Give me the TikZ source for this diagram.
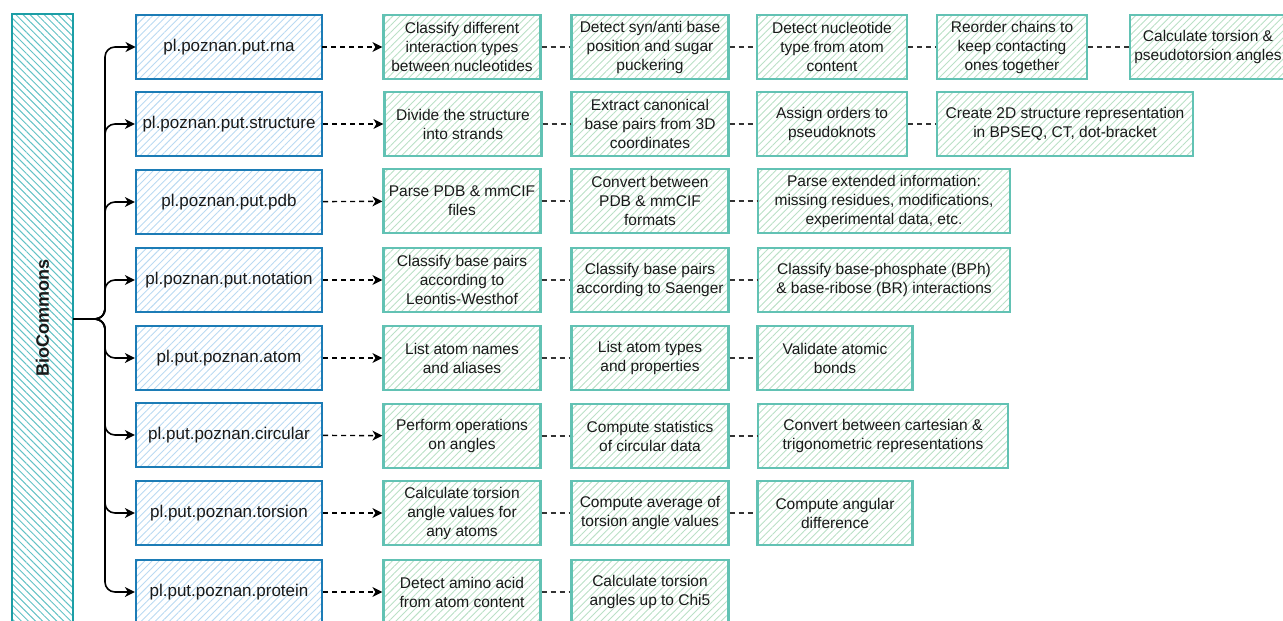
\documentclass[tikz,border=0pt]{standalone}
\usepackage{fontspec}
\setmainfont{Liberation Sans}
\usetikzlibrary{arrows.meta,patterns.meta}
\definecolor{bborder}{RGB}{28,124,182}
\definecolor{bhatch}{RGB}{186,218,242}
\definecolor{gborder}{RGB}{98,194,180}
\definecolor{ghatch}{RGB}{186,224,198}
\definecolor{bioborder}{RGB}{28,158,166}
\definecolor{biohatch}{RGB}{100,194,198}
\definecolor{txt}{RGB}{25,25,25}
\begin{document}
\begin{tikzpicture}[x=1pt,y=-1pt,
  bbox/.style={draw=bborder, line width=2.2pt,
    pattern={Lines[angle=45,distance=5pt,line width=0.9pt]}, pattern color=bhatch,
    minimum width=186, minimum height=64, inner sep=2pt, align=center,
    font=\fontsize{17}{20}\selectfont, text=txt},
  gbox/.style={draw=gborder, line width=2.2pt,
    pattern={Lines[angle=45,distance=5pt,line width=0.9pt]}, pattern color=ghatch,
    minimum width=157, minimum height=64, inner sep=2pt, align=center,
    font=\fontsize{15.5}{19}\selectfont, text=txt},
  biobox/.style={draw=bioborder, line width=2.2pt,
    pattern={Lines[angle=-45,distance=5pt,line width=1pt]}, pattern color=biohatch,
    minimum width=61, minimum height=660},
  bus/.style={draw=black, line width=1.6pt, rounded corners=10pt,
    -{Stealth[length=10pt,width=10pt,inset=3pt]}},
  darrow/.style={draw=black, line width=1.4pt, dash pattern=on 5pt off 4pt,
    -{Stealth[length=10pt,width=10pt,inset=3pt]}},
  dline/.style={draw=black!80, line width=1.2pt, dash pattern=on 5pt off 4pt}
]
\useasboundingbox (0,0) rectangle (1283,621);
\clip (0,0) rectangle (1283,621);

% BioCommons bar
\node[biobox] (bio) at (42.5,344) {};
\node[rotate=90, font=\bfseries\fontsize{18}{20}\selectfont, text=txt] (biotext) at (42.5,318) {BioCommons};
\coordinate (hub) at (105,319);

% blue package boxes
\node[bbox] (r1) at (229,47) {pl.poznan.put.rna};
\node[bbox] (r2) at (229,124) {pl.poznan.put.structure};
\node[bbox] (r3) at (229,202) {pl.poznan.put.pdb};
\node[bbox] (r4) at (229,280) {pl.poznan.put.notation};
\node[bbox] (r5) at (229,358) {pl.put.poznan.atom};
\node[bbox] (r6) at (229,435) {pl.put.poznan.circular};
\node[bbox] (r7) at (229,513) {pl.put.poznan.torsion};
\node[bbox] (r8) at (229,592) {pl.put.poznan.protein};

% row 1
\node[gbox] (g11) at (462,47) {Classify different\\interaction types\\between nucleotides};
\node[gbox] (g12) at (650,47) {Detect syn/anti base\\position and sugar\\puckering};
\node[gbox, minimum width=150] (g13) at (832,47) {Detect nucleotide\\type from atom\\content};
\node[gbox, minimum width=150] (g14) at (1012,47) {Reorder chains to\\keep contacting\\ones together};
\node[gbox, minimum width=156] (g15) at (1208,47) {Calculate torsion \&\\pseudotorsion angles};
% row 2
\node[gbox] (g21) at (463,124) {Divide the structure\\into strands};
\node[gbox] (g22) at (650,124) {Extract canonical\\base pairs from 3D\\coordinates};
\node[gbox, minimum width=150] (g23) at (832,124) {Assign orders to\\pseudoknots};
\node[gbox, minimum width=256] (g24) at (1065,124) {Create 2D structure representation\\in BPSEQ, CT, dot-bracket};
% row 3
\node[gbox] (g31) at (462,201) {Parse PDB \& mmCIF\\files};
\node[gbox] (g32) at (650,201) {Convert between\\PDB \& mmCIF\\formats};
\node[gbox, minimum width=252] (g33) at (884,201) {Parse extended information:\\missing residues, modifications,\\experimental data, etc.};
% row 4
\node[gbox] (g41) at (462,280) {Classify base pairs\\according to\\Leontis-Westhof};
\node[gbox] (g42) at (650,280) {Classify base pairs\\according to Saenger};
\node[gbox, minimum width=252] (g43) at (884,280) {Classify base-phosphate (BPh)\\\& base-ribose (BR) interactions};
% row 5
\node[gbox] (g51) at (462,358) {List atom names\\and aliases};
\node[gbox] (g52) at (650,358) {List atom types\\and properties};
\node[gbox, minimum width=155] (g53) at (835,358) {Validate atomic\\bonds};
% row 6
\node[gbox] (g61) at (462,436) {Perform operations\\on angles};
\node[gbox] (g62) at (650,436) {Compute statistics\\of circular data};
\node[gbox, minimum width=250] (g63) at (883,436) {Convert between cartesian \&\\trigonometric representations};
% row 7
\node[gbox] (g71) at (462,513) {Calculate torsion\\angle values for\\any atoms};
\node[gbox] (g72) at (650,513) {Compute average of\\torsion angle values};
\node[gbox, minimum width=155] (g73) at (835,513) {Compute angular\\difference};
% row 8
\node[gbox] (g81) at (462,592) {Detect amino acid\\from atom content};
\node[gbox] (g82) at (650,592) {Calculate torsion\\angles up to Chi5};

% bus connectors
\foreach \r in {r1,r2,r3,r4,r5,r6,r7,r8}
  \draw[bus] (bio.east |- hub) -- (hub) |- (\r.west);

% dashed arrows to first step
\draw[darrow] (r1) -- (g11);
\draw[darrow] (r2) -- (g21);
\draw[darrow] (r3) -- (g31);
\draw[darrow] (r4) -- (g41);
\draw[darrow] (r5) -- (g51);
\draw[darrow] (r6) -- (g61);
\draw[darrow] (r7) -- (g71);
\draw[darrow] (r8) -- (g81);

% dashed lines between steps
\draw[dline] (g11) -- (g12);
\draw[dline] (g12) -- (g13);
\draw[dline] (g13) -- (g14);
\draw[dline] (g14) -- (g15);
\draw[dline] (g21) -- (g22);
\draw[dline] (g22) -- (g23);
\draw[dline] (g23) -- (g24);
\draw[dline] (g31) -- (g32);
\draw[dline] (g32) -- (g33);
\draw[dline] (g41) -- (g42);
\draw[dline] (g42) -- (g43);
\draw[dline] (g51) -- (g52);
\draw[dline] (g52) -- (g53);
\draw[dline] (g61) -- (g62);
\draw[dline] (g62) -- (g63);
\draw[dline] (g71) -- (g72);
\draw[dline] (g72) -- (g73);
\draw[dline] (g81) -- (g82);
\end{tikzpicture}
\end{document}
